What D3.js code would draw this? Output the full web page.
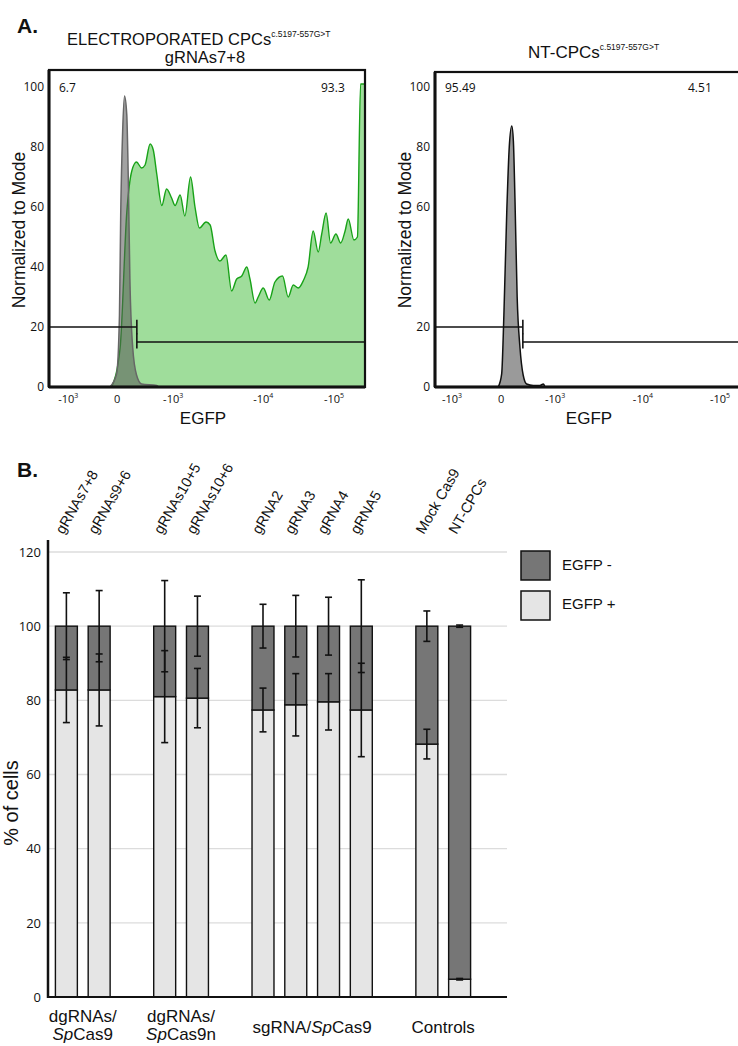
<!DOCTYPE html>
<html>
<head>
<meta charset="utf-8">
<script src="https://cdn.jsdelivr.net/npm/d3@7"></script>
<style>
body { margin: 0; background: #fff; }
svg text { font-family: "Liberation Sans", Arial, sans-serif; fill: #111; }
svg text.num { font-family: "Open Sans", sans-serif; }
</style>
</head>
<body>
<svg id="fig" width="738" height="1046"></svg>
<script>
// ---- panel A data: histograms as [channel (0-1000), % of mode]
const greenHist = [
  [198, 0], [225, 13], [246, 58], [262, 72], [277, 75], [293, 73], [304, 74], [320, 81],
  [330, 79], [341, 71], [357, 60.5], [372, 66], [388, 63], [399, 60.5], [415, 64], [430, 57],
  [448, 70], [462, 60], [476, 53], [497, 55], [510, 54], [525, 45.5], [541, 42], [560, 44],
  [578, 32], [594, 36], [610, 37], [626, 40], [636, 36], [652, 28], [662, 30], [678, 33],
  [697, 29], [715, 35], [739, 37], [757, 30], [773, 34], [789, 33], [805, 35.5], [820, 40],
  [836, 52], [852, 45], [863, 51], [877, 58], [891, 48], [908, 51], [923, 48], [937, 52],
  [947, 56], [965, 49], [976, 50], [986, 101], [1000, 101]
]
const greyHistLeft = [
  [193, 0], [214, 4.4], [223, 24], [227, 58], [233, 85], [239, 97], [246, 91], [251, 69],
  [256, 36], [265, 13], [277, 4], [293, 1], [341, 0.5], [346, 0]
]
const greyHistRight = [
  [200, 0], [211, 4.4], [218, 24], [227, 58], [235, 80], [243, 87], [248, 82], [253, 63],
  [260, 30], [269, 13], [279, 4], [290, 1], [311, 0.5], [332, 0.5], [343, 1], [348, 0]
]
const gateChannel = 278
const gateLevels = [20, 15]
const tickChannelsLeft = [61, 216, 393, 678, 902]
const tickChannelsRight = [54, 209, 380, 658, 902]
const tickPowers = ["3", "", "3", "4", "5"]
const yTicksLeft = [0, 20, 40, 60, 80, 100]
const yTicksRight = [0, 20, 60, 80, 100]

// ---- panel B data
const barNames = ["gRNAs7+8", "gRNAs9+6", "gRNAs10+5", "gRNAs10+6", "gRNA2", "gRNA3", "gRNA4", "gRNA5", "Mock Cas9", "NT-CPCs"]
const egfpPos = [82.8, 82.8, 81.0, 80.6, 77.4, 78.8, 79.6, 77.4, 68.2, 4.8]
const sdPos = [8.8, 9.7, 12.4, 8.0, 5.9, 8.4, 7.6, 12.6, 4.0, 0.2]
const sdNeg = [9.0, 9.6, 12.3, 8.1, 5.9, 8.3, 7.8, 12.5, 4.1, 0.3]
const slots = ["gRNAs7+8", "gRNAs9+6", "gap1", "gRNAs10+5", "gRNAs10+6", "gap2",
  "gRNA2", "gRNA3", "gRNA4", "gRNA5", "gap3", "Mock Cas9", "NT-CPCs"]
const groupBars = [["gRNAs7+8", "gRNAs9+6"], ["gRNAs10+5", "gRNAs10+6"],
  ["gRNA2", "gRNA3", "gRNA4", "gRNA5"], ["Mock Cas9", "NT-CPCs"]]
// each line is a list of [text, italic]
const groupLabels = [
  [[["dgRNAs/", false]], [["Sp", true], ["Cas9", false]]],
  [[["dgRNAs/", false]], [["Sp", true], ["Cas9n", false]]],
  [[["sgRNA/", false], ["Sp", true], ["Cas9", false]]],
  [[["Controls", false]]]
]
const yTicksB = [0, 20, 40, 60, 80, 100, 120]
const legendItems = ["EGFP -", "EGFP +"]

let svg = d3.select("#fig")

// panel letters
svg.append("text").attr("x", 17).attr("y", 33).style("font-size", "21px").style("font-weight", "bold").text("A.")
svg.append("text").attr("x", 17).attr("y", 477).style("font-size", "21px").style("font-weight", "bold").text("B.")

function drawHistogram(opts) {
    let g = svg.append("g")
    let x = d3.scaleLinear().domain([0, 1000]).range([opts.left, opts.left + 316])
    let y = d3.scaleLinear().domain([0, 100]).range([387, 87])

    let area = d3.area()
        .x(d => x(d[0]))
        .y0(y(0))
        .y1(d => y(d[1]))
        .curve(d3.curveMonotoneX)
    let line = d3.line()
        .x(d => x(d[0]))
        .y(d => y(d[1]))
        .curve(d3.curveMonotoneX)

    if (opts.green) {
        let gd = opts.green.concat([[1000, 0]])
        g.append("path").datum(gd).attr("d", area).attr("fill", "#9fdd9b")
        g.append("path").datum(opts.green).attr("d", line)
            .attr("fill", "none").attr("stroke", "#18a218").attr("stroke-width", 1.4)
    }
    g.append("path").datum(opts.grey).attr("d", area)
        .attr("fill", opts.greyFill).attr("fill-opacity", opts.greyOpacity)
    g.append("path").datum(opts.grey).attr("d", line)
        .attr("fill", "none").attr("stroke", opts.greyStroke).attr("stroke-width", 1.5)

    // gates
    let gx = x(gateChannel)
    g.append("line").attr("x1", x(0)).attr("x2", gx).attr("y1", y(gateLevels[0])).attr("y2", y(gateLevels[0]))
        .attr("stroke", "#111").attr("stroke-width", 1.6)
    g.append("line").attr("x1", gx).attr("x2", gx).attr("y1", y(gateLevels[0] + 2.4)).attr("y2", y(gateLevels[0] - 2.4))
        .attr("stroke", "#111").attr("stroke-width", 1.6)
    g.append("line").attr("x1", gx).attr("x2", x(1000)).attr("y1", y(gateLevels[1])).attr("y2", y(gateLevels[1]))
        .attr("stroke", "#111").attr("stroke-width", 1.6)
    g.append("line").attr("x1", gx).attr("x2", gx).attr("y1", y(gateLevels[1] + 2.8)).attr("y2", y(gateLevels[1] - 2.2))
        .attr("stroke", "#111").attr("stroke-width", 1.6)

    // frame
    g.append("rect").attr("x", x(0)).attr("y", opts.top).attr("width", 316).attr("height", y(0) - opts.top)
        .attr("fill", "none").attr("stroke", "#111").attr("stroke-width", 2.2)
    g.append("line").attr("x1", x(0)).attr("x2", x(0)).attr("y1", opts.top).attr("y2", y(0))
        .attr("stroke", "#111").attr("stroke-width", 3)
    g.append("line").attr("x1", x(0)).attr("x2", x(1000)).attr("y1", y(0)).attr("y2", y(0))
        .attr("stroke", "#111").attr("stroke-width", 3)

    // y ticks
    let yAxis = d3.axisLeft(y).tickValues(opts.yTicks).tickSize(0).tickPadding(4)
    let ya = g.append("g").attr("transform", "translate(" + (x(0) - 1) + ",0)").call(yAxis)
    ya.select(".domain").remove()
    ya.selectAll("text").attr("class", "num").style("font-size", "12px").attr("fill", "#111")

    // x tick labels
    opts.xTicks.forEach((c, i) => {
        let t = g.append("text").attr("class", "num").attr("x", x(c)).attr("y", 403)
            .attr("text-anchor", "middle").style("font-size", "11px")
        if (tickPowers[i] === "") {
            t.text("0")
        } else {
            t.append("tspan").text("-10")
            t.append("tspan").attr("dy", -5).style("font-size", "7px").text(tickPowers[i])
        }
    })

    g.append("text").attr("x", x(0) + 154).attr("y", 424).attr("text-anchor", "middle")
        .style("font-size", "17px").text("EGFP")
    g.append("text").attr("transform", "translate(" + (x(0) - 24) + ",230) rotate(-90)")
        .attr("text-anchor", "middle").style("font-size", "17.5px").text("Normalized to Mode")

    g.append("text").attr("class", "num").attr("x", opts.left + 10).attr("y", 92)
        .style("font-size", "12px").text(opts.leftPct)
    g.append("text").attr("class", "num").attr("x", opts.rightPctX).attr("y", 92)
        .style("font-size", "12px").text(opts.rightPct)
}

drawHistogram({
    left: 49, top: 70, green: greenHist, grey: greyHistLeft,
    greyFill: "#555", greyOpacity: 0.55, greyStroke: "#666",
    yTicks: yTicksLeft, xTicks: tickChannelsLeft, leftPct: "6.7", rightPct: "93.3", rightPctX: 321
})
drawHistogram({
    left: 435, top: 72, green: null, grey: greyHistRight,
    greyFill: "#9a9a9a", greyOpacity: 1, greyStroke: "#111",
    yTicks: yTicksRight, xTicks: tickChannelsRight, leftPct: "95.49", rightPct: "4.51", rightPctX: 688
})

// titles of panel A
let t1 = svg.append("text").attr("x", 67).attr("y", 45).style("font-size", "16.5px")
t1.append("tspan").text("ELECTROPORATED CPCs")
t1.append("tspan").attr("dy", -8).style("font-size", "8.5px").text("c.5197-557G>T")
svg.append("text").attr("x", 205).attr("y", 63).attr("text-anchor", "middle").style("font-size", "16.5px").text("gRNAs7+8")
let t2 = svg.append("text").attr("x", 528).attr("y", 58).style("font-size", "17px")
t2.append("tspan").text("NT-CPCs")
t2.append("tspan").attr("dy", -8).style("font-size", "8.5px").text("c.5197-557G>T")

// ---- panel B: stacked bars
let yB = d3.scaleLinear().domain([0, 120]).range([997, 552])
let xB = d3.scaleBand().domain(slots).range([50, 476]).paddingInner(0.33).paddingOuter(0.165)
let bw = xB.bandwidth()
let gB = svg.append("g")

gB.selectAll(".grid").data(yTicksB.filter(v => v > 0)).enter().append("line")
    .attr("x1", 48).attr("x2", 507).attr("y1", d => yB(d)).attr("y2", d => yB(d))
    .attr("stroke", "#dcdcdc").attr("stroke-width", 1.3)

let yAxisB = d3.axisLeft(yB).tickValues(yTicksB).tickSize(0).tickPadding(6)
let yaB = gB.append("g").attr("transform", "translate(47,0)").call(yAxisB)
yaB.select(".domain").remove()
yaB.selectAll("text").attr("class", "num").style("font-size", "13px").attr("fill", "#111")

let barData = barNames.map((n, i) => ({ name: n, pos: egfpPos[i], sdPos: sdPos[i], sdNeg: sdNeg[i] }))

gB.selectAll(".pos").data(barData).enter().append("rect")
    .attr("x", d => xB(d.name)).attr("width", bw)
    .attr("y", d => yB(d.pos)).attr("height", d => yB(0) - yB(d.pos))
    .attr("fill", "#e5e5e5").attr("stroke", "#111").attr("stroke-width", 1.4)
gB.selectAll(".neg").data(barData).enter().append("rect")
    .attr("x", d => xB(d.name)).attr("width", bw)
    .attr("y", yB(100)).attr("height", d => yB(d.pos) - yB(100))
    .attr("fill", "#767676").attr("stroke", "#111").attr("stroke-width", 1.4)

// error bars: one around 100 (EGFP-) and one around the split (EGFP+)
function errorBar(cx, mid, sd) {
    let g = gB.append("g").attr("stroke", "#111").attr("stroke-width", 1.6)
    g.append("line").attr("x1", cx).attr("x2", cx).attr("y1", yB(mid + sd)).attr("y2", yB(mid - sd))
    g.append("line").attr("x1", cx - 3.5).attr("x2", cx + 3.5).attr("y1", yB(mid + sd)).attr("y2", yB(mid + sd))
    g.append("line").attr("x1", cx - 3.5).attr("x2", cx + 3.5).attr("y1", yB(mid - sd)).attr("y2", yB(mid - sd))
}
barData.forEach(d => {
    let cx = xB(d.name) + bw / 2
    errorBar(cx, 100, d.sdNeg)
    errorBar(cx, d.pos, d.sdPos)
})

// axis lines
gB.append("line").attr("x1", 48).attr("x2", 48).attr("y1", 540).attr("y2", 998)
    .attr("stroke", "#111").attr("stroke-width", 2.5)
gB.append("line").attr("x1", 47).attr("x2", 507).attr("y1", 997).attr("y2", 997)
    .attr("stroke", "#111").attr("stroke-width", 2)

// rotated bar labels
barNames.forEach(n => {
    gB.append("text")
        .attr("transform", "translate(" + (xB(n) + bw / 2 - 3) + ",535) rotate(-60)")
        .style("font-size", "14.5px").text(n)
})

// group labels
groupBars.forEach((names, i) => {
    let cx = d3.mean(names, n => xB(n) + bw / 2)
    let lines = groupLabels[i]
    let y0 = lines.length > 1 ? 1022 : 1033
    lines.forEach((parts, j) => {
        let t = gB.append("text").attr("x", cx).attr("y", y0 + j * 18)
            .attr("text-anchor", "middle").style("font-size", "17px")
        parts.forEach(p => {
            t.append("tspan").style("font-style", p[1] ? "italic" : "normal").text(p[0])
        })
    })
})

// y title
svg.append("text").attr("transform", "translate(18,803) rotate(-90)")
    .attr("text-anchor", "middle").style("font-size", "20px").text("% of cells")

// legend
let legendFill = ["#767676", "#e5e5e5"]
legendItems.forEach((l, i) => {
    svg.append("rect").attr("x", 521).attr("y", 551 + i * 40).attr("width", 29).attr("height", 29)
        .attr("fill", legendFill[i]).attr("stroke", "#111").attr("stroke-width", 1.5)
    svg.append("text").attr("x", 562).attr("y", 570 + i * 39).style("font-size", "15px").text(l)
})
</script>
</body>
</html>
